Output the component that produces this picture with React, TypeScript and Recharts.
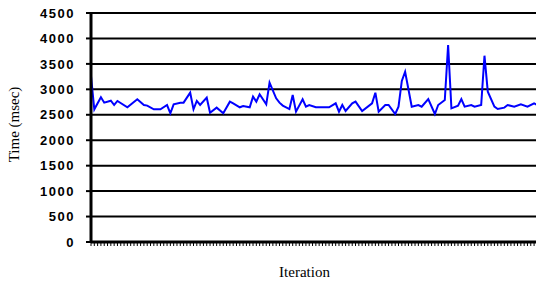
import React from 'react';
import { LineChart, Line, XAxis, YAxis, CartesianGrid, Label } from 'recharts';

const iterations = [0,1,3,4,6,7,8,11,14,16,17,19,21,23,24,25,27,28,30,31,32,33,35,36,38,40,42,43,45,46,48,49,50,51,53,54,56,57,58,60,61,62,64,65,66,68,72,74,75,76,77,79,80,82,85,86,87,89,90,92,93,94,95,97,99,100,102,104,105,107,108,109,111,112,113,115,116,118,119,120,122,123,125,126,128,130,132,134,136,137];
const times = [3260,2607,2843,2738,2777,2692,2771,2647,2804,2692,2680,2607,2607,2692,2529,2706,2738,2738,2934,2607,2771,2692,2836,2541,2640,2529,2758,2725,2647,2672,2647,2856,2758,2902,2706,3131,2823,2738,2680,2613,2889,2561,2804,2659,2692,2647,2647,2725,2561,2692,2574,2725,2758,2574,2725,2934,2561,2692,2692,2515,2659,3164,3346,2659,2692,2659,2810,2515,2692,2790,3871,2627,2680,2810,2659,2692,2659,2692,3661,2954,2659,2613,2640,2692,2659,2706,2659,2725,2659,2659];
const yTicks = [0, 500, 1000, 1500, 2000, 2500, 3000, 3500, 4000, 4500];
const xTicks = Array.from({ length: 138 }, (_, i) => i);

const data = iterations.map((it, i) => ({ iteration: it, time: times[i] }));

const serif = "'Times New Roman', 'Liberation Serif', serif";
const sans = "Arial, 'Liberation Sans', sans-serif";

const YLabel = (props: any) => {
  const vb = props.viewBox || {};
  const cx = (vb.x || 0) + 19;
  const cy = (vb.y || 0) + (vb.height || 0) / 2 - 3;
  return (
    <text x={cx} y={cy} transform={`rotate(-90, ${cx}, ${cy})`} textAnchor="middle"
      fontFamily={serif} fontSize={15} fill="#000">Time (msec)</text>
  );
};

export default function App() {
  return (
    <div style={{ marginTop: -8, marginLeft: -8, width: 544, height: 283 }}>
      <LineChart width={544} height={283} data={data} margin={{ top: 13, right: 0, bottom: 0, left: 0 }}>
        <CartesianGrid horizontal vertical={false} stroke="#000" strokeWidth={2} strokeOpacity={1} />
        <XAxis dataKey="iteration" type="number" domain={[0, 137]} ticks={xTicks} interval={0}
          tickFormatter={() => ''} tickSize={4} height={41}
          tickLine={{ stroke: '#000', strokeWidth: 1 }}
          axisLine={{ stroke: '#000', strokeWidth: 3 }}>
          <Label value="Iteration" position="insideBottom" offset={6} dx={-13}
            style={{ fontFamily: serif, fontSize: 15, fill: '#000' }} />
        </XAxis>
        <YAxis domain={[0, 4500]} ticks={yTicks} interval={0} width={91} tickSize={5} tickMargin={11}
          tick={{ fontFamily: sans, fontSize: 13, fontWeight: 'bold', fill: '#000', letterSpacing: 1.5 }}
          tickLine={{ stroke: '#000', strokeWidth: 2 }}
          axisLine={{ stroke: '#000', strokeWidth: 3 }}>
          <Label content={<YLabel />} />
        </YAxis>
        <Line type="linear" dataKey="time" stroke="#0000FF" strokeWidth={2} dot={false} isAnimationActive={false} />
      </LineChart>
    </div>
  );
}
